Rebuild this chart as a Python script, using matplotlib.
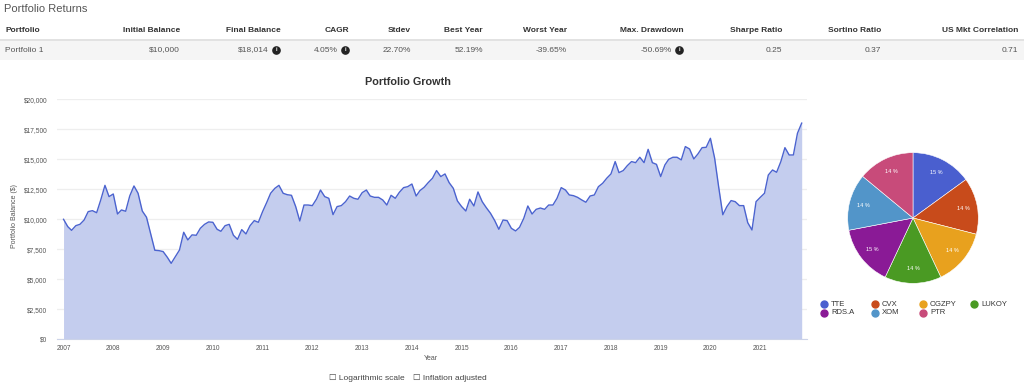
import matplotlib
matplotlib.use("Agg")
import matplotlib.pyplot as plt
from matplotlib.lines import Line2D
from matplotlib.patches import Rectangle
from matplotlib.ticker import FuncFormatter, MultipleLocator
import matplotlib.dates as mdates
import pandas as pd

plt.rcParams["font.family"] = ["Liberation Sans", "DejaVu Sans"]

# summary table
columns = ["Portfolio", "Initial Balance", "Final Balance", "CAGR", "Stdev", "Best Year",
           "Worst Year", "Max. Drawdown", "Sharpe Ratio", "Sortino Ratio", "US Mkt Correlation"]
row = ["Portfolio 1", "$10,000", "$18,014", "4.05%", "22.70%", "52.19%",
       "-39.65%", "-50.69%", "0.25", "0.37", "0.71"]
info_cols = ["Final Balance", "CAGR", "Max. Drawdown"]

# monthly balance, Jan 2007 .. Nov 2021
balance = [
    10000, 9390, 9080, 9470, 9580, 9940, 10640, 10720, 10550, 11610, 12830, 11890,
    12110, 10440, 10780, 10670, 11950, 12780, 12170, 10690, 10170, 8830, 7420, 7390,
    7310, 6830, 6330, 6890, 7440, 8920, 8280, 8700, 8670, 9250, 9580, 9780,
    9750, 9170, 9000, 9470, 9580, 8670, 8330, 9140, 8780, 9470, 9890, 9750,
    10640, 11420, 12170, 12580, 12830, 12170, 12050, 12000, 11060, 9860, 11190, 11190,
    11140, 11690, 12440, 11890, 11750, 10390, 11060, 11140, 11470, 11940, 11750, 11670,
    12220, 12440, 11940, 11830, 11830, 11610, 11190, 12000, 11750, 12250, 12640, 12720,
    12940, 11940, 12390, 12670, 13060, 13420, 14060, 13560, 13780, 13060, 12580, 11530,
    11060, 10690, 11670, 11110, 12280, 11470, 10970, 10500, 9890, 9170, 9940, 9890,
    9250, 9030, 9330, 10080, 11110, 10440, 10830, 10940, 10830, 11190, 11190, 11750,
    12640, 12440, 12030, 11970, 11830, 11610, 11420, 11940, 12030, 12720, 13000, 13420,
    13780, 14810, 13890, 14060, 14470, 14810, 14720, 15170, 14720, 15830, 14720, 14580,
    13560, 14530, 15000, 15170, 15170, 14950, 16060, 15860, 15030, 15440, 15970, 16000,
    16750, 15100, 12750, 10380, 11060, 11560, 11470, 11140, 11140, 9720, 9110, 11470,
    11830, 12170, 13690, 14110, 13920, 14810, 15970, 15360, 15360, 17170, 18014,
]
dates = pd.date_range("2007-01-01", periods=len(balance), freq="MS")

# allocation pie
tickers = ["TTE", "CVX", "OGZPY", "LUKOY", "RDS.A", "XOM", "PTR"]
weights = [15, 14, 14, 14, 15, 14, 14]
pie_colors = ["#4a5fcf", "#c84b1b", "#e8a11e", "#4a9a23", "#8a1a96", "#5295c9", "#c84b7a"]

W, H = 1024, 386


def fx(px):
    return px / W


def fy(py):
    return 1 - py / H


fig = plt.figure(figsize=(W / 100, H / 100), dpi=100)

# ---- table ----
fig.text(fx(4), fy(9), "Portfolio Returns", fontsize=8, color="#555555", va="center")
fig.add_artist(Rectangle((0, fy(60)), 1, (60 - 41) / H, transform=fig.transFigure,
                         facecolor="#f5f5f5", edgecolor="none"))
fig.add_artist(Line2D([0, 1], [fy(40), fy(40)], color="#dddddd", lw=1.2))

col_right = [None, 180, 281, 349, 411, 483, 567, 684, 782, 881, 1018]
val_right = [None, 180, 269, 338, 411, 483, 567, 672, 782, 881, 1018]
for name, value, xr, xv in zip(columns, row, col_right, val_right):
    if xr is None:
        fig.text(fx(5), fy(31), name, fontsize=6, fontweight="bold", color="#333333", va="center")
        fig.text(fx(5), fy(50), value, fontsize=6, color="#555555", va="center")
        continue
    fig.text(fx(xr), fy(31), name, fontsize=6, fontweight="bold", color="#333333",
             va="center", ha="right")
    fig.text(fx(xv), fy(50), value, fontsize=6, color="#555555", va="center", ha="right")
    if name in info_cols:
        fig.add_artist(Line2D([fx(xv + 7)], [fy(49.5)], marker="o", markersize=5.2,
                              color="#222222", lw=0))
        fig.text(fx(xv + 7), fy(49.5), "i", fontsize=4, fontweight="bold", color="white",
                 ha="center", va="center")

# ---- growth chart ----
ax = fig.add_axes([fx(57), fy(339.3), fx(807 - 57), (339.3 - 99.3) / H])
ax.fill_between(dates, balance, 0, color="#c4cdee", lw=0)
ax.plot(dates, balance, color="#4b63cf", lw=1.0)
ax.set_ylim(0, 20000)
ax.set_xlim(pd.Timestamp("2006-11-14"), pd.Timestamp("2021-12-10"))
ax.yaxis.set_major_locator(MultipleLocator(2500))
ax.yaxis.set_major_formatter(FuncFormatter(lambda v, p: f"${v:,.0f}"))
ax.xaxis.set_major_locator(mdates.YearLocator())
ax.xaxis.set_major_formatter(mdates.DateFormatter("%Y"))
ax.grid(axis="y", color="#eeeeee", lw=0.9)
ax.set_axisbelow(True)
for s in ["left", "right", "top"]:
    ax.spines[s].set_visible(False)
ax.spines["bottom"].set_color("#ccd3e8")
ax.tick_params(axis="both", length=0, labelsize=4.8, labelcolor="#555555")
ax.tick_params(axis="y", pad=7)
ax.tick_params(axis="x", pad=4)

fig.text(fx(408), fy(82), "Portfolio Growth", fontsize=7.8, fontweight="bold",
         color="#333333", ha="center", va="center")
fig.text(fx(14), fy(216), "Portfolio Balance ($)", fontsize=5, color="#555555",
         rotation=90, ha="center", va="center")
fig.text(fx(431), fy(359), "Year", fontsize=5, color="#555555", ha="center", va="center")
fig.text(fx(329), fy(378), "\u2610 Logarithmic scale", fontsize=6, color="#444444", va="center")
fig.text(fx(413), fy(378), "\u2610 Inflation adjusted", fontsize=6, color="#444444", va="center")

# ---- pie ----
axp = fig.add_axes([fx(847), fy(284), fx(132), 132 / H])
axp.pie(weights, colors=pie_colors, startangle=90, counterclock=False,
        wedgeprops=dict(edgecolor="white", linewidth=0.4),
        autopct=lambda p: f"{p:.0f} %", pctdistance=0.78,
        textprops=dict(color="white", fontsize=4))
axp.set_xlim(-1.01, 1.01)
axp.set_ylim(-1.01, 1.01)

legend_x = [824, 875, 923, 974]
legend_y = [304, 313]
for i, (name, c) in enumerate(zip(tickers, pie_colors)):
    x0 = legend_x[i % 4]
    y0 = legend_y[i // 4]
    fig.add_artist(Line2D([fx(x0)], [fy(y0)], marker="o", markersize=5, color=c, lw=0))
    fig.text(fx(x0 + 7), fy(y0), name, fontsize=5.5, color="#333333", va="center")

fig.savefig("out.png", dpi=100)
